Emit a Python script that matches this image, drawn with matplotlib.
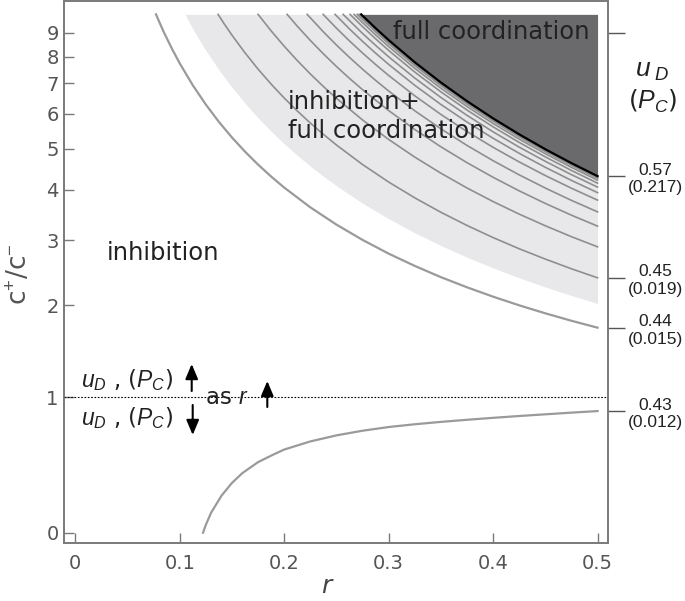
import numpy as np
import matplotlib
matplotlib.use('Agg')
import matplotlib.pyplot as plt

plt.rcParams['mathtext.fontset'] = 'custom'
plt.rcParams['mathtext.rm'] = 'Liberation Sans'
plt.rcParams['mathtext.it'] = 'Liberation Sans:italic'
plt.rcParams['mathtext.bf'] = 'Liberation Sans:bold'

# ---------------- data ----------------
TOP = 9.85  # upper edge of the shaded regions

# upper gray curve (u_D = 0.44)
U_r = [0.0773, 0.081, 0.085, 0.0925, 0.1, 0.1125, 0.125, 0.1375, 0.15, 0.1625, 0.175,
       0.1875, 0.2, 0.225, 0.25, 0.275, 0.3, 0.325, 0.35, 0.375, 0.4, 0.425, 0.45, 0.475, 0.5]
U_y = [9.85, 9.43, 9.01, 8.327, 7.74, 6.935, 6.285, 5.749, 5.30, 4.918, 4.589,
       4.302, 4.05, 3.628, 3.288, 3.008, 2.772, 2.573, 2.40, 2.251, 2.119, 2.002, 1.898, 1.804, 1.72]

# lower boundary of the light region (inhibition + full coordination)
L_r = [0.105, 0.11, 0.115, 0.125, 0.1375, 0.15, 0.1625, 0.175, 0.1875, 0.2, 0.2125, 0.225,
       0.2375, 0.25, 0.275, 0.3, 0.325, 0.35, 0.375, 0.4, 0.425, 0.45, 0.475, 0.5]
L_y = [9.85, 9.40, 8.98, 8.256, 7.496, 6.864, 6.328, 5.871, 5.475, 5.128, 4.823, 4.551,
       4.309, 4.09, 3.714, 3.40, 3.136, 2.909, 2.713, 2.541, 2.39, 2.255, 2.135, 2.027]

# contour lines inside the light region (u_D = 0.45 ... 0.56)
C_r = [
    [0.1367, 0.1425, 0.15, 0.1625, 0.175, 0.1875, 0.2, 0.2125, 0.225, 0.2375, 0.25, 0.275,
     0.3, 0.325, 0.35, 0.375, 0.4, 0.425, 0.45, 0.475, 0.5],
    [0.175, 0.1875, 0.2, 0.2125, 0.225, 0.2375, 0.25, 0.275, 0.3, 0.325, 0.35, 0.375, 0.4,
     0.425, 0.45, 0.475, 0.5],
    [0.2028, 0.2125, 0.225, 0.2375, 0.25, 0.2625, 0.275, 0.3, 0.325, 0.35, 0.375, 0.4,
     0.425, 0.45, 0.475, 0.5],
    [0.222, 0.2375, 0.25, 0.2625, 0.275, 0.2875, 0.3, 0.325, 0.35, 0.375, 0.4, 0.425,
     0.45, 0.475, 0.5],
    [0.2373, 0.25, 0.2625, 0.275, 0.2875, 0.3, 0.325, 0.35, 0.375, 0.4, 0.425, 0.45,
     0.475, 0.5],
    [0.2487, 0.2625, 0.275, 0.2875, 0.3, 0.325, 0.35, 0.375, 0.4, 0.425, 0.45, 0.475, 0.5],
    [0.2564, 0.275, 0.2875, 0.3, 0.325, 0.35, 0.375, 0.4, 0.425, 0.45, 0.475, 0.5],
    [0.2631, 0.275, 0.2875, 0.3, 0.325, 0.35, 0.375, 0.4, 0.425, 0.45, 0.475, 0.5],
    [0.267, 0.275, 0.2875, 0.3, 0.325, 0.35, 0.375, 0.4, 0.425, 0.45, 0.475, 0.5],
    [0.270, 0.275, 0.2875, 0.3, 0.325, 0.35, 0.375, 0.4, 0.425, 0.45, 0.475, 0.5],
    [0.2717, 0.275, 0.2875, 0.3, 0.325, 0.35, 0.375, 0.4, 0.425, 0.45, 0.475, 0.5],
]
C_y = [
    [9.85, 9.41, 8.90, 8.155, 7.52, 6.975, 6.50, 6.084, 5.716, 5.388, 5.095, 4.591,
     4.175, 3.826, 3.528, 3.272, 3.049, 2.854, 2.682, 2.528, 2.39],
    [9.85, 9.087, 8.427, 7.85, 7.342, 6.892, 6.491, 5.807, 5.246, 4.777, 4.381, 4.041,
     3.747, 3.491, 3.266, 3.065, 2.887],
    [9.85, 9.302, 8.672, 8.116, 7.621, 7.179, 6.781, 6.095, 5.526, 5.046, 4.637, 4.284,
     3.977, 3.708, 3.47, 3.259],
    [9.85, 9.045, 8.478, 7.973, 7.517, 7.108, 6.736, 6.089, 5.546, 5.083, 4.686, 4.341,
     4.039, 3.772, 3.536],
    [9.85, 9.21, 8.651, 8.147, 7.696, 7.285, 6.573, 5.975, 5.468, 5.032, 4.655, 4.325,
     4.035, 3.777],
    [9.85, 9.176, 8.631, 8.143, 7.70, 6.932, 6.289, 5.745, 5.278, 4.874, 4.522, 4.212, 3.938],
    [9.85, 8.975, 8.462, 7.997, 7.191, 6.518, 5.947, 5.459, 5.037, 4.67, 4.346, 4.06],
    [9.85, 9.279, 8.741, 8.254, 7.411, 6.707, 6.112, 5.603, 5.164, 4.782, 4.446, 4.149],
    [9.85, 9.463, 8.911, 8.413, 7.551, 6.831, 6.223, 5.702, 5.254, 4.864, 4.521, 4.218],
    [9.85, 9.606, 9.044, 8.535, 7.656, 6.923, 6.303, 5.774, 5.318, 4.921, 4.572, 4.264],
    [9.85, 9.689, 9.119, 8.605, 7.715, 6.973, 6.347, 5.812, 5.351, 4.95, 4.598, 4.287],
]

# boundary of the dark region (full coordination)
D_r = [0.2737, 0.275, 0.2875, 0.3, 0.325, 0.35, 0.375, 0.4, 0.425, 0.45, 0.475, 0.5]
D_y = [9.85, 9.786, 9.208, 8.686, 7.783, 7.031, 6.397, 5.854, 5.388, 4.981, 4.625, 4.311]

# lower curve (u_D = 0.43)
LO_r = [0.1223, 0.125, 0.13, 0.14, 0.15, 0.16, 0.175, 0.19, 0.2, 0.225, 0.25, 0.275, 0.3,
        0.325, 0.35, 0.375, 0.4, 0.425, 0.45, 0.475, 0.5]
LO_y = [0.0, 0.06, 0.145, 0.26, 0.345, 0.412, 0.488, 0.543, 0.578, 0.638, 0.684, 0.72, 0.749,
        0.771, 0.79, 0.807, 0.823, 0.838, 0.852, 0.866, 0.879]

x_ticks = [0, 0.1, 0.2, 0.3, 0.4, 0.5]
x_labels = ['0', '0.1', '0.2', '0.3', '0.4', '0.5']
y_ticks = [0, 1, 2, 3, 4, 5, 6, 7, 8, 9]
y_labels = ['0', '1', '2', '3', '4', '5', '6', '7', '8', '9']
right_ticks = [9.0, 4.311, 2.39, 1.72, 0.879]
right_labels = ['', '0.57\n(0.217)', '0.45\n(0.019)', '0.44\n(0.015)', '0.43\n(0.012)']

# ---------------- scale ----------------
def fwd(y):
    y = np.clip(np.asarray(y, float), -0.2, 1e6)
    return np.log(1.0 + y + 0.1 * np.exp(-4.0 * y))

_grid = np.linspace(-0.2, 60, 60001)
_fgrid = fwd(_grid)

def inv(v):
    return np.interp(np.asarray(v, float), _fgrid, _grid)

W, H = 685, 601
fig = plt.figure(figsize=(W / 100, H / 100), dpi=100)
ax_l, ax_r, ax_t, ax_b = 64.3, 608.0, 1.2, 542.5
ax = fig.add_axes([ax_l / W, 1 - ax_b / H, (ax_r - ax_l) / W, (ax_b - ax_t) / H])
ax.set_yscale('function', functions=(fwd, inv))
XLIM = (-0.0105, 0.51)
YLIM = (-0.09, 10.5)
ax.set_xlim(*XLIM)
ax.set_ylim(*YLIM)

light = '#e8e8ea'
dark = '#6a6a6c'
cline = '#8e8e8e'

ax.fill_between(L_r, L_y, TOP, color=light, lw=0, zorder=1)
for r, y in zip(C_r, C_y):
    ax.plot(r, y, color=cline, lw=1.2, zorder=2)
ax.fill_between(D_r, D_y, TOP, color=dark, lw=0, zorder=3)
ax.plot(D_r, D_y, color='black', lw=1.6, zorder=4)
ax.plot(U_r, U_y, color='#9a9a9a', lw=1.6, zorder=4)
ax.plot(LO_r, LO_y, color='#9a9a9a', lw=1.6, zorder=4)
ax.axhline(1, color='black', lw=0.8, ls=(0, (1.5, 1.5)), zorder=5)

spine_c = '#7a7a7a'
for s in ax.spines.values():
    s.set_color(spine_c)
    s.set_linewidth(1.2)

ax.set_xticks(x_ticks, x_labels)
ax.set_yticks(y_ticks, y_labels)
ax.yaxis.set_minor_locator(matplotlib.ticker.NullLocator())
ax.tick_params(axis='both', direction='in', length=7, width=1, color=spine_c,
               labelcolor='#555555', labelsize=14)
ax.tick_params(axis='x', pad=8)
ax.tick_params(axis='y', pad=4)

ax2 = ax.twinx()
ax2.set_yscale('function', functions=(fwd, inv))
ax2.set_ylim(*YLIM)
ax2.set_yticks(right_ticks, right_labels)
ax2.yaxis.set_minor_locator(matplotlib.ticker.NullLocator())
ax2.tick_params(axis='y', direction='out', length=12, width=1, color='#555555',
                labelcolor='#222222', labelsize=12.5, pad=2)
for lbl in ax2.get_yticklabels():
    lbl.set_multialignment('center')
    lbl.set_family('Liberation Sans')
for s in ax2.spines.values():
    s.set_color(spine_c)
    s.set_linewidth(1.2)

def P(px, py):
    return (px / W, 1 - py / H)

txtc = '#222222'
fig.text(*P(393, 32), 'full coordination', fontsize=17.5, color=txtc, ha='left', va='center')
fig.text(*P(288, 102), 'inhibition+', fontsize=17.5, color=txtc, ha='left', va='center')
fig.text(*P(288, 131), 'full coordination', fontsize=17.5, color=txtc, ha='left', va='center')
fig.text(*P(107, 253), 'inhibition', fontsize=17.5, color=txtc, ha='left', va='center')

fig.text(*P(20, 274), r'c$^{+}$/c$^{-}$', fontsize=19, color='#555555', rotation=90,
         ha='center', va='center', family='DejaVu Sans')
fig.text(*P(326, 586), 'r', fontsize=18, color='#444444', style='italic',
         ha='center', va='center')

# right header
fig.text(*P(652, 70), r'$u_{\ D}$', fontsize=19, color=txtc, ha='center', va='center')
fig.text(*P(653, 101), r'($P_{C}$)', fontsize=18, color=txtc, ha='center', va='center')

# annotations around c+/c- = 1
fig.text(*P(81, 380), r'$u_D$ , ($P_C$)', fontsize=16.5, color=txtc, ha='left', va='center')
fig.text(*P(81, 418), r'$u_D$ , ($P_C$)', fontsize=16.5, color=txtc, ha='left', va='center')
fig.text(*P(205, 397), r'as $r$', fontsize=16.5, color=txtc, ha='left', va='center')

aprops = dict(arrowstyle='-|>,head_length=0.9,head_width=0.38', color='black', lw=1.5,
              shrinkA=0, shrinkB=0)
for (x0, y0, x1, y1) in [(191.7, 391, 191.7, 364), (267.3, 407, 267.3, 381),
                         (192.7, 405, 192.7, 435)]:
    ax.annotate('', xy=P(x1, y1), xytext=P(x0, y0), xycoords='figure fraction',
                textcoords='figure fraction', arrowprops=aprops)

fig.savefig('out.png', dpi=100)
